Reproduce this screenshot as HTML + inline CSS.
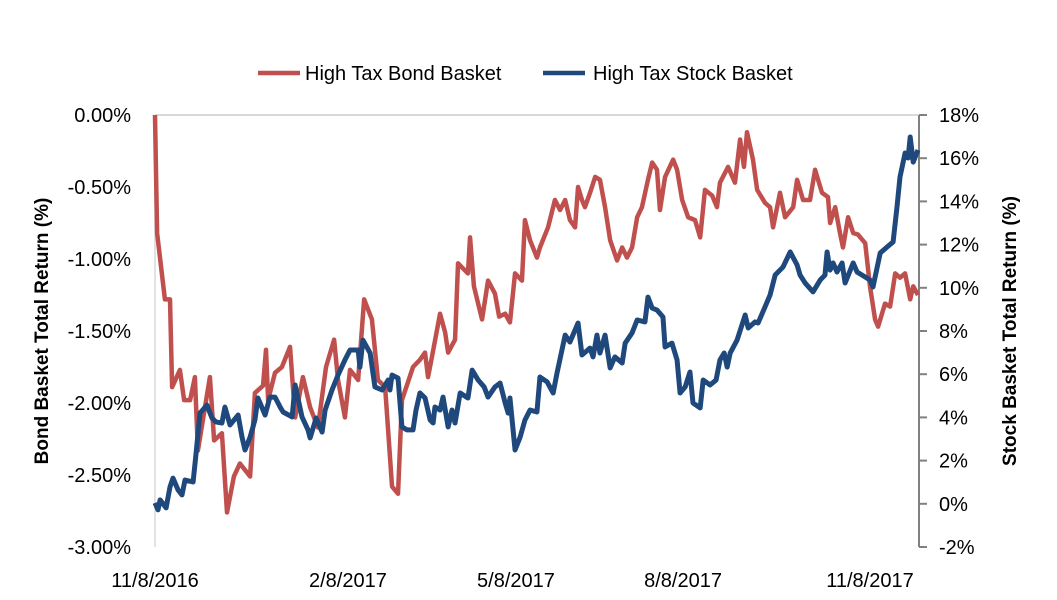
<!DOCTYPE html>
<html><head><meta charset="utf-8"><style>
body{margin:0;background:#fff;font-family:"Liberation Sans",sans-serif;}
svg{display:block}
text{font-family:"Liberation Sans",sans-serif;fill:#000}
</style></head><body>
<svg id="chart" width="1057" height="600">
  <g>
    <line x1="258" y1="73" x2="300" y2="73" stroke="#C0504D" stroke-width="4.5"/>
    <text x="305" y="80" font-size="20">High Tax Bond Basket</text>
    <line x1="543" y1="73" x2="585" y2="73" stroke="#1F497D" stroke-width="4.5"/>
    <text x="593" y="80" font-size="20">High Tax Stock Basket</text>
  </g>
  <text transform="translate(48,331) rotate(-90)" text-anchor="middle" font-size="19" font-weight="bold">Bond Basket Total Return (%)</text>
  <text transform="translate(1016,331) rotate(-90)" text-anchor="middle" font-size="19" font-weight="bold">Stock Basket Total Return (%)</text>
  <g id="axes"></g>
  <g id="series"></g>
</svg>
<script>
const dayIndex = [0,0.7,3.3,5,5.7,8.3,9.7,11.7,13.3,14.3,18.3,19.7,22.3,24,26.3,28.3,31.7,33.3,36,37,37.7,40,42.3,45,46.7,49.3,51.7,54.3,57,59.7,61,63.3,65,67.7,69.7,72.3,74.3,76.7,79,81,82.3,86,88.3,90,91,92.3,95,96.7,97.7,100,101,104.3,105,106.3,109,111,113.3,114.7,116.7,118.3,120,122.3,123.3,125,127.3,128.3,131,133.3,135,136.7,138.3,140,141,142.3,143.3,145,146.7,148.3,150,151.7,154,155.7,157.3,159,160.7,162.3,164.3,165.7,167.3,168.3,170,172.7,174,175.7,177.7,180,181.7,183.3,185.7,187.3,188.3,191,193.3,195,196.3,197.3,199.3,200.7,203.3,205,206,208.3,210,212.7,214,216,218.3,220,222.3,224.3,225,226.7,228.3,229.3,231,232.7,234.3,236.7,238.3,240,241,243.3,245,246.7,248.3,250,251.7,252.7,254.3];
const bondReturn = [0,-0.82,-1.28,-1.28,-1.89,-1.77,-1.98,-1.98,-1.82,-2.33,-1.82,-2.26,-2.21,-2.76,-2.51,-2.42,-2.51,-1.93,-1.88,-1.63,-1.98,-1.79,-1.75,-1.61,-2.10,-1.82,-2.03,-2.17,-1.75,-1.56,-1.84,-2.10,-1.77,-1.84,-1.28,-1.42,-1.84,-1.89,-2.58,-2.63,-1.98,-1.75,-1.70,-1.65,-1.82,-1.68,-1.38,-1.51,-1.65,-1.56,-1.03,-1.10,-0.85,-1.19,-1.42,-1.15,-1.24,-1.40,-1.38,-1.44,-1.10,-1.15,-0.73,-0.87,-0.99,-0.92,-0.78,-0.59,-0.66,-0.59,-0.73,-0.78,-0.50,-0.59,-0.64,-0.54,-0.43,-0.45,-0.64,-0.87,-1.01,-0.92,-0.99,-0.92,-0.71,-0.64,-0.45,-0.33,-0.38,-0.66,-0.43,-0.31,-0.38,-0.59,-0.71,-0.73,-0.85,-0.52,-0.56,-0.64,-0.47,-0.36,-0.47,-0.17,-0.36,-0.12,-0.31,-0.52,-0.61,-0.64,-0.78,-0.54,-0.71,-0.64,-0.45,-0.59,-0.59,-0.38,-0.54,-0.57,-0.75,-0.64,-0.82,-0.92,-0.71,-0.82,-0.83,-0.89,-1.19,-1.42,-1.47,-1.31,-1.33,-1.10,-1.13,-1.10,-1.28,-1.19,-1.25];
const stockDayIndex = [0,1,1.7,3.7,5,6,7.7,9,10,12.7,13.7,15,17.3,19,20.3,22.3,23.3,25,27.7,29,30,31.7,33.3,34.3,36.7,38.3,40,41.7,42.7,45.7,46.7,49,51,51.7,53.7,55.7,56.7,59,61,63.3,65,67.7,68.3,69.3,71.7,73.3,75.7,77.7,78.3,79,81,82.3,84,86,87,88.3,90,91.7,92.7,93.3,95,96,97.7,99,100,101.7,104.3,105.7,107.7,109.7,111,113.3,115,116.7,117.7,118.3,120,121.7,123.3,125,127.3,128.3,130.7,132.7,134,136.7,138.3,141,142.3,145,146,147.3,148.3,150,151.7,153.3,155.7,156.7,159,160.7,163.3,164.3,165.7,167.3,169.3,170,172.3,174,175,176.7,178.3,179.3,181.7,182.7,185,187,188.3,189.7,190.7,191.7,194,196.7,197.7,200,201,203.3,205,206.7,209.3,211.7,214,215,216.7,219.3,221.7,223.3,224,225,226,227.3,229,230,232.7,234,236.7,238.3,239.3,241.7,244,246,247.3,248.3,250,251,251.7,252.7,254.3];
const stockReturn = [0.04,-0.28,0.18,-0.19,0.78,1.19,0.64,0.41,1.10,1.01,2.35,4.20,4.57,3.97,3.79,3.74,4.48,3.65,4.11,3.09,2.49,3.09,3.88,4.90,4.11,4.94,4.94,4.48,4.25,4.02,5.50,4.02,3.42,3.05,3.97,3.32,4.34,5.27,5.96,6.66,7.12,7.12,6.33,7.58,6.98,5.41,5.27,5.73,5.27,5.96,5.82,3.56,3.42,3.42,4.34,5.13,4.90,3.88,3.74,4.48,4.34,4.94,3.56,4.34,3.74,5.13,4.90,6.19,5.73,5.41,4.94,5.41,5.59,4.67,4.20,4.90,2.49,3.09,3.88,4.34,4.25,5.87,5.64,5.13,6.06,7.81,7.49,8.37,6.89,7.21,6.80,7.81,6.98,7.81,6.29,6.80,6.52,7.44,7.91,8.51,8.42,9.57,9.06,8.97,8.65,7.26,7.44,6.66,5.13,5.41,6.10,4.67,4.44,5.73,5.50,5.73,6.66,6.98,6.33,6.98,7.58,8.74,8.14,8.42,8.37,9.11,9.67,10.59,10.96,11.66,11.06,10.59,10.22,9.81,10.36,10.59,11.66,10.82,11.15,10.73,11.15,10.22,11.15,10.73,10.50,10.36,10.04,11.61,11.89,12.12,13.74,15.13,16.24,16.01,16.98,15.82,16.38];
const leftTicks = [0,-0.5,-1,-1.5,-2,-2.5,-3];
const leftTickLabels = ["0.00%","-0.50%","-1.00%","-1.50%","-2.00%","-2.50%","-3.00%"];
const rightTicks = [18,16,14,12,10,8,6,4,2,0,-2];
const rightTickLabels = ["18%","16%","14%","12%","10%","8%","6%","4%","2%","0%","-2%"];
const xLabelDays = [0,64.3,120.3,176,238.3];
const xLabels = ["11/8/2016","2/8/2017","5/8/2017","8/8/2017","11/8/2017"];

const NS="http://www.w3.org/2000/svg";
const X0=155,X1=918,Y0=115,Y1=547,DMAX=254.3;
const xs=d=>X0+(d/DMAX)*(X1-X0);
const yL=v=>Y0+(0-v)/3*(Y1-Y0);
const yR=v=>Y0+(18-v)/20*(Y1-Y0);
const axes=document.getElementById('axes'), ser=document.getElementById('series');
function mk(tag,attrs,parent){const e=document.createElementNS(NS,tag);for(const k in attrs)e.setAttribute(k,attrs[k]);parent.appendChild(e);return e;}

let g=mk('line',{x1:X0,y1:Y0,x2:X1,y2:Y0,stroke:'#d9d9d9','stroke-width':2},axes);


g=mk('line',{x1:X0,y1:Y0,x2:X0,y2:Y1,stroke:'#d9d9d9','stroke-width':1.5},axes);


g=mk('line',{x1:919,y1:Y0,x2:919,y2:Y1,stroke:'#808080','stroke-width':2},axes);



leftTicks.forEach((v,i)=>{
  const t=mk('text',{x:131,y:yL(v)+7,'text-anchor':'end','font-size':20},axes);
  t.textContent=leftTickLabels[i];
  
  
});
rightTicks.forEach((v,i)=>{
  const l=mk('line',{x1:919,y1:yR(v),x2:927,y2:yR(v),stroke:'#808080','stroke-width':2},axes);
  
  
  const t=mk('text',{x:939,y:yR(v)+7,'font-size':20},axes);
  t.textContent=rightTickLabels[i];
  
  
});
xLabelDays.forEach((d,i)=>{
  const t=mk('text',{x:xs(d),y:587,'text-anchor':'middle','font-size':20},axes);
  t.textContent=xLabels[i];
  
  
});

const pb=mk('polyline',{points:dayIndex.map((d,i)=>xs(d)+','+yL(bondReturn[i])).join(' '),fill:'none',stroke:'#C0504D','stroke-width':4.5,'stroke-linejoin':'round'},ser);


const ps=mk('polyline',{points:stockDayIndex.map((d,i)=>xs(d)+','+yR(stockReturn[i])).join(' '),fill:'none',stroke:'#1F497D','stroke-width':5,'stroke-linejoin':'round'},ser);


</script>
</body></html>
